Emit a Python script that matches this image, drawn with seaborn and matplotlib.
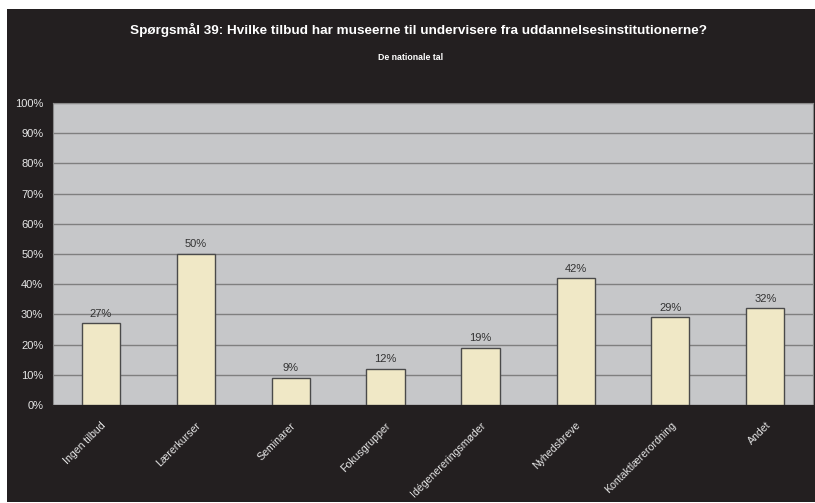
import numpy as np
import pandas as pd
import matplotlib
matplotlib.use('Agg')
import matplotlib.pyplot as plt
import seaborn as sns
from matplotlib.patches import Rectangle

categories = ['Ingen tilbud', 'Lærerkurser', 'Seminarer', 'Fokusgrupper',
              'Idégenereringsmøder', 'Nyhedsbreve', 'Kontaktlærerordning', 'Andet']
values = [27, 50, 9, 12, 19, 42, 29, 32]
yticks = [0, 10, 20, 30, 40, 50, 60, 70, 80, 90, 100]

title = 'Spørgsmål 39: Hvilke tilbud har museerne til undervisere fra uddannelsesinstitutionerne?'
subtitle = 'De nationale tal'

sns.set_style('white')
plt.rcParams['font.family'] = ['Liberation Sans', 'DejaVu Sans']

dark = '#231f20'
fig = plt.figure(figsize=(8.15, 5.03), dpi=100, facecolor='white')
# dark frame with a thin white margin at top/left
fig.patches.append(Rectangle((7 / 815, 0.002), 1, (493 / 503), transform=fig.transFigure,
                             facecolor=dark, edgecolor='none', zorder=-5))

ax = fig.add_axes([53 / 815, 98 / 503, 760 / 815, 302 / 503])
ax.set_zorder(2)
ax.set_facecolor('#c6c7c9')

df = pd.DataFrame({'kategori': categories, 'andel': values})
sns.barplot(data=df, x='kategori', y='andel', color='#f0e8c6', saturation=1,
            width=0.4, edgecolor='#4a4a4a', linewidth=1, ax=ax, zorder=3)

ax.set_ylim(0, 100)
ax.set_xlim(-0.5, len(categories) - 0.5)
ax.set_yticks(yticks)
ax.set_yticklabels([f'{t}%' for t in yticks], color='#e6e6e6', fontsize=8)
ax.yaxis.grid(True, color='#7f7f7f', linewidth=1, zorder=0)
ax.set_axisbelow(True)
ax.tick_params(axis='y', length=0, pad=7)
ax.tick_params(axis='x', length=0, pad=11)
ax.set_xticks(range(len(categories)))
ax.set_xticklabels(categories, rotation=45, ha='right', rotation_mode='anchor',
                   color='#e6e6e6', fontsize=7.6)
ax.set_xlabel('')
ax.set_ylabel('')
for side in ['left', 'right', 'top']:
    ax.spines[side].set_color('#8a8a8a')
ax.spines['bottom'].set_color(dark)

for i, v in enumerate(values):
    ax.text(i, v + 1.5, f'{v}%', ha='center', va='bottom', fontsize=8, color='#333333')

fig.text(418 / 815, 1 - 30 / 503, title, ha='center', va='center', color='white',
         fontsize=9.7, fontweight='bold', zorder=5)
fig.text(411 / 815, 1 - 57 / 503, subtitle, ha='center', va='center', color='white',
         fontsize=6.3, fontweight='bold', zorder=5)

fig.savefig('out.png', dpi=100, facecolor='white')
